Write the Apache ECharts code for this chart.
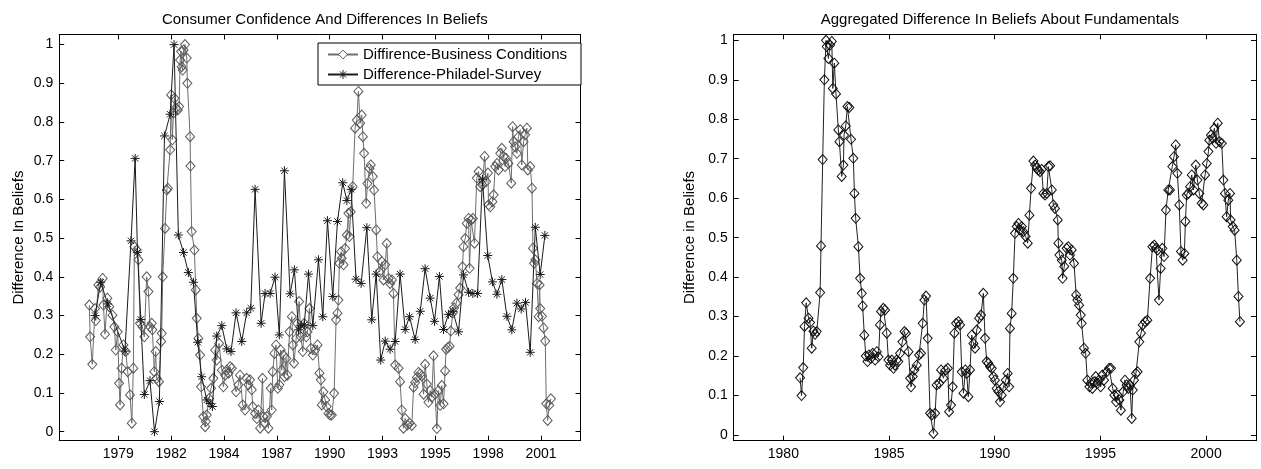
<!DOCTYPE html>
<html>
<head>
<meta charset="utf-8">
<script src="https://cdn.jsdelivr.net/npm/echarts@6/dist/echarts.min.js"></script>
<style>
html, body { margin: 0; padding: 0; background: #ffffff; }
#chart { width: 1261px; height: 469px; }
</style>
</head>
<body>
<div id="chart"></div>
<script>
// ---------------- text ----------------
const leftTitle = 'Consumer Confidence And Differences In Beliefs';
const rightTitle = 'Aggregated Difference In Beliefs About Fundamentals';
const leftYName = 'Difference In Beliefs';
const rightYName = 'Difference in Beliefs';
const bizName = 'Diffirence-Business Conditions';
const phillyName = 'Difference-Philadel-Survey';

// ---------------- tick positions (axis units) and labels ----------------
const leftXTickPos = [1979.55, 1982.25, 1984.95, 1987.65, 1990.35, 1993.05, 1995.75, 1998.45, 2001.15];
const leftXTickLabels = ['1979', '1982', '1984', '1987', '1990', '1993', '1995', '1998', '2001'];
const rightXTickPos = [1980, 1985, 1990, 1995, 2000];
const rightXTickLabels = ['1980', '1985', '1990', '1995', '2000'];
const yTickPos = [0, 0.1, 0.2, 0.3, 0.4, 0.5, 0.6, 0.7, 0.8, 0.9, 1];
const yTickLabels = ['0', '0.1', '0.2', '0.3', '0.4', '0.5', '0.6', '0.7', '0.8', '0.9', '1'];

// ---------------- axis ranges ----------------
const leftXRange = [1976.53, 2003.17];
const rightXRange = [1977.65, 2002.36];
const leftYRange = [-0.0233, 1.026];
const rightYRange = [-0.0144, 1.0152];

// ---------------- series: [decimal year, value] ----------------
const bizConditions = [
[1978.07,0.327],[1978.11,0.245],[1978.22,0.174],[1978.36,0.318],[1978.40,0.287],[1978.53,0.379],[1978.62,0.374],[1978.75,0.396],[1978.79,0.327],[1978.87,0.252],[1978.99,0.345],[1979.09,0.323],[1979.25,0.301],[1979.35,0.271],[1979.42,0.211],[1979.52,0.258],[1979.59,0.125],[1979.64,0.069],[1979.72,0.164],[1979.81,0.224],[1979.93,0.207],[1980.03,0.155],[1980.15,0.095],[1980.24,0.022],[1980.32,0.164],[1980.37,0.478],[1980.49,0.469],[1980.58,0.444],[1980.66,0.280],[1980.78,0.271],[1980.88,0.245],[1981.00,0.400],[1981.09,0.362],[1981.17,0.271],[1981.26,0.280],[1981.29,0.263],[1981.39,0.155],[1981.46,0.207],[1981.51,0.138],[1981.63,0.129],[1981.74,0.233],[1981.77,0.254],[1981.82,0.400],[1981.94,0.525],[1982.03,0.624],[1982.08,0.629],[1982.20,0.728],[1982.25,0.870],[1982.31,0.754],[1982.37,0.823],[1982.42,0.861],[1982.49,0.836],[1982.59,0.831],[1982.66,0.840],[1982.71,0.960],[1982.76,0.982],[1982.79,0.943],[1982.84,0.934],[1982.89,0.986],[1982.96,1.000],[1983.05,0.965],[1983.08,0.900],[1983.22,0.762],[1983.24,0.686],[1983.30,0.517],[1983.44,0.469],[1983.51,0.366],[1983.56,0.293],[1983.64,0.241],[1983.73,0.198],[1983.78,0.116],[1983.90,0.039],[1983.99,0.013],[1984.02,0.026],[1984.07,0.043],[1984.19,0.086],[1984.29,0.112],[1984.41,0.138],[1984.50,0.211],[1984.58,0.185],[1984.70,0.228],[1984.84,0.159],[1984.92,0.116],[1985.01,0.146],[1985.09,0.159],[1985.18,0.151],[1985.26,0.168],[1985.35,0.164],
[1985.57,0.103],[1985.69,0.121],[1985.77,0.146],[1985.91,0.069],[1986.03,0.056],[1986.11,0.138],[1986.20,0.121],[1986.28,0.134],[1986.37,0.108],[1986.42,0.065],[1986.54,0.047],[1986.63,0.034],[1986.71,0.056],[1986.80,0.009],[1986.92,0.138],[1986.97,0.039],[1987.05,0.022],[1987.14,0.039],[1987.22,0.009],[1987.34,0.112],[1987.39,0.056],[1987.44,0.155],[1987.53,0.202],[1987.61,0.224],[1987.70,0.112],[1987.78,0.121],[1987.85,0.211],[1987.90,0.159],[1987.99,0.198],[1988.04,0.142],[1988.13,0.189],[1988.19,0.146],[1988.30,0.258],[1988.42,0.297],[1988.47,0.224],[1988.53,0.177],[1988.64,0.241],[1988.70,0.280],[1988.79,0.336],[1988.88,0.245],[1988.98,0.207],[1989.05,0.280],[1989.15,0.245],[1989.22,0.258],[1989.32,0.318],[1989.39,0.215],[1989.49,0.198],[1989.61,0.211],[1989.73,0.224],[1989.83,0.151],[1989.90,0.134],[1989.95,0.069],[1990.03,0.103],[1990.12,0.082],[1990.20,0.065],[1990.29,0.047],[1990.37,0.043],[1990.46,0.043],[1990.58,0.099],[1990.68,0.289],[1990.75,0.306],[1990.80,0.340],[1990.85,0.435],[1990.94,0.465],[1990.97,0.448],[1991.06,0.431],[1991.14,0.473],[1991.23,0.508],[1991.31,0.564],[1991.36,0.504],[1991.43,0.568],[1991.53,0.633],[1991.65,0.784],[1991.74,0.805],[1991.82,0.879],[1991.91,0.797],[1991.99,0.818],[1992.05,0.762],[1992.11,0.719],[1992.22,0.590],[1992.28,0.641],[1992.39,0.680],[1992.45,0.689],[1992.56,0.659],[1992.62,0.624],[1992.73,0.521],[1992.79,0.452],[1992.90,0.413],[1993.02,0.439],[1993.10,0.392],[1993.19,0.431],[1993.27,0.486],[1993.36,0.396],[1993.44,0.383],[1993.53,0.392],[1993.61,0.357],[1993.70,0.172],[1993.87,0.164],[1993.95,0.129],[1994.04,0.056],[1994.12,0.009],[1994.21,0.034],[1994.33,0.017],[1994.43,0.022],[1994.55,0.016],[1994.64,0.115],[1994.72,0.127],[1994.81,0.140],[1994.89,0.153],[1994.98,0.149],[1995.06,0.144],[1995.15,0.097],[1995.23,0.174],[1995.32,0.123],[1995.40,0.076],[1995.49,0.106],[1995.57,0.089],[1995.66,0.196],[1995.74,0.097],[1995.83,0.008],[1995.91,0.106],[1996.00,0.068],[1996.08,0.119],[1996.17,0.072],[1996.25,0.157],[1996.30,0.213],[1996.39,0.217],[1996.48,0.221],[1996.54,0.260],[1996.65,0.307],[1996.71,0.320],[1996.82,0.332],[1996.94,0.354],[1997.02,0.371],[1997.14,0.426],[1997.19,0.478],[1997.28,0.499],[1997.36,0.538],[1997.45,0.551],[1997.50,0.422],[1997.58,0.547],[1997.67,0.551],[1997.75,0.487],[1997.87,0.655],[1997.96,0.672],[1998.04,0.633],[1998.16,0.637],[1998.27,0.711],[1998.35,0.646],[1998.44,0.668],[1998.47,0.586],[1998.56,0.581],[1998.67,0.594],[1998.73,0.612],[1998.81,0.685],[1998.90,0.693],[1998.98,0.676],[1999.07,0.719],[1999.15,0.732],[1999.24,0.711],[1999.32,0.685],[1999.37,0.706],[1999.49,0.693],[1999.63,0.642],[1999.70,0.788],[1999.75,0.749],[1999.83,0.736],[1999.92,0.719],[2000.00,0.762],[2000.09,0.780],[2000.17,0.689],[2000.26,0.749],[2000.34,0.767],[2000.43,0.784],[2000.48,0.676],[2000.60,0.685],[2000.69,0.629],[2000.74,0.474],[2000.80,0.435],[2000.86,0.444],[2000.95,0.383],[2001.03,0.297],[2001.08,0.379],[2001.11,0.318],[2001.20,0.298],[2001.28,0.268],[2001.37,0.234],[2001.42,0.072],[2001.49,0.029],[2001.57,0.068],[2001.66,0.085]
];

const phillySurvey = [
[1978.36,0.300],[1978.65,0.386],[1979.01,0.330],[1979.89,0.208],[1980.20,0.493],[1980.41,0.706],[1980.53,0.463],[1980.70,0.290],[1980.88,0.096],[1981.17,0.132],[1981.40,0.000],[1981.65,0.078],[1981.91,0.764],[1982.20,0.820],[1982.40,1.000],[1982.62,0.508],[1982.88,0.463],[1983.13,0.411],[1983.39,0.386],[1983.61,0.231],[1983.81,0.142],[1984.07,0.082],[1984.24,0.073],[1984.36,0.065],[1984.58,0.247],[1984.84,0.274],[1985.09,0.214],[1985.31,0.207],[1985.57,0.307],[1985.86,0.233],[1986.11,0.307],[1986.32,0.319],[1986.54,0.626],[1986.85,0.280],[1987.05,0.357],[1987.31,0.357],[1987.56,0.399],[1987.78,0.250],[1988.04,0.674],[1988.33,0.356],[1988.55,0.418],[1988.76,0.263],[1988.89,0.274],[1989.05,0.276],[1989.27,0.407],[1989.49,0.274],[1989.78,0.444],[1990.00,0.297],[1990.24,0.545],[1990.51,0.349],[1990.75,0.543],[1991.02,0.643],[1991.23,0.597],[1991.45,0.626],[1991.70,0.394],[1991.96,0.383],[1992.25,0.527],[1992.50,0.289],[1992.73,0.407],[1992.96,0.185],[1993.19,0.234],[1993.44,0.213],[1993.70,0.233],[1993.95,0.407],[1994.21,0.264],[1994.43,0.297],[1994.72,0.238],[1994.98,0.311],[1995.23,0.421],[1995.49,0.345],[1995.71,0.285],[1995.96,0.401],[1996.17,0.264],[1996.42,0.303],[1996.65,0.311],[1996.94,0.258],[1997.19,0.405],[1997.45,0.360],[1997.67,0.357],[1997.91,0.357],[1998.16,0.652],[1998.43,0.455],[1998.67,0.387],[1998.90,0.355],[1999.15,0.393],[1999.41,0.298],[1999.66,0.263],[1999.92,0.332],[2000.14,0.317],[2000.36,0.334],[2000.60,0.205],[2000.86,0.528],[2001.11,0.406],[2001.35,0.507]
];

const aggregated = [
[1980.79,0.145],[1980.86,0.100],[1980.94,0.171],[1981.00,0.275],[1981.08,0.335],[1981.19,0.296],[1981.26,0.285],[1981.34,0.220],[1981.42,0.263],[1981.50,0.255],[1981.58,0.262],[1981.74,0.361],[1981.78,0.479],[1981.86,0.698],[1981.94,0.900],[1982.02,1.000],[1982.05,0.984],[1982.13,0.954],[1982.21,0.988],[1982.29,0.997],[1982.34,0.878],[1982.41,0.942],[1982.49,0.864],[1982.60,0.773],[1982.65,0.743],[1982.76,0.655],[1982.84,0.684],[1982.87,0.760],[1982.95,0.783],[1983.03,0.832],[1983.12,0.830],[1983.20,0.749],[1983.31,0.701],[1983.36,0.612],[1983.42,0.549],[1983.55,0.477],[1983.63,0.397],[1983.71,0.359],[1983.75,0.327],[1983.83,0.253],[1983.90,0.200],[1983.98,0.186],[1984.05,0.203],[1984.13,0.194],[1984.23,0.207],[1984.34,0.190],[1984.42,0.211],[1984.50,0.198],[1984.57,0.279],[1984.62,0.313],[1984.73,0.321],[1984.81,0.317],[1984.89,0.258],[1984.97,0.190],[1985.05,0.177],[1985.13,0.190],[1985.21,0.169],[1985.28,0.177],[1985.36,0.190],[1985.44,0.186],[1985.52,0.207],[1985.63,0.236],[1985.73,0.262],[1985.80,0.258],[1985.92,0.211],[1986.00,0.144],[1986.04,0.122],[1986.12,0.148],[1986.20,0.165],[1986.31,0.177],[1986.42,0.203],[1986.51,0.207],[1986.59,0.283],[1986.67,0.342],[1986.75,0.352],[1986.83,0.245],[1986.94,0.055],[1987.02,0.051],[1987.10,0.004],[1987.18,0.055],[1987.25,0.127],[1987.37,0.131],[1987.46,0.165],[1987.57,0.144],[1987.68,0.165],[1987.78,0.169],[1987.84,0.059],[1987.93,0.076],[1988.01,0.122],[1988.09,0.258],[1988.17,0.283],[1988.28,0.287],[1988.36,0.279],[1988.44,0.160],[1988.52,0.106],[1988.61,0.165],[1988.67,0.156],[1988.75,0.097],[1988.83,0.165],[1988.91,0.253],[1988.99,0.232],[1989.07,0.220],[1989.15,0.266],[1989.26,0.296],[1989.35,0.304],[1989.46,0.359],[1989.54,0.245],[1989.62,0.186],[1989.70,0.182],[1989.78,0.173],[1989.86,0.169],[1989.94,0.148],[1990.01,0.139],[1990.09,0.118],[1990.17,0.110],[1990.25,0.084],[1990.33,0.101],[1990.41,0.122],[1990.52,0.139],[1990.61,0.156],[1990.68,0.122],[1990.72,0.270],[1990.80,0.308],[1990.88,0.397],[1990.96,0.511],[1991.04,0.528],[1991.12,0.536],[1991.20,0.519],[1991.28,0.528],[1991.35,0.515],[1991.46,0.503],[1991.56,0.486],[1991.64,0.557],[1991.72,0.625],[1991.83,0.694],[1991.91,0.684],[1991.99,0.676],[1992.06,0.671],[1992.14,0.667],[1992.22,0.673],[1992.30,0.612],[1992.38,0.608],[1992.46,0.612],[1992.54,0.680],[1992.62,0.682],[1992.70,0.621],[1992.77,0.583],[1992.85,0.574],[1992.98,0.545],[1993.01,0.486],[1993.06,0.456],[1993.17,0.443],[1993.21,0.397],[1993.29,0.427],[1993.40,0.473],[1993.48,0.477],[1993.56,0.456],[1993.64,0.469],[1993.75,0.435],[1993.85,0.355],[1993.91,0.342],[1993.99,0.329],[1994.07,0.304],[1994.11,0.283],[1994.22,0.220],[1994.30,0.207],[1994.38,0.139],[1994.48,0.122],[1994.54,0.131],[1994.62,0.118],[1994.70,0.135],[1994.78,0.148],[1994.86,0.131],[1994.93,0.139],[1995.01,0.122],[1995.09,0.152],[1995.17,0.139],[1995.30,0.160],[1995.41,0.169],[1995.50,0.169],[1995.58,0.118],[1995.66,0.101],[1995.74,0.084],[1995.82,0.101],[1995.90,0.089],[1995.97,0.063],[1996.08,0.110],[1996.16,0.139],[1996.24,0.127],[1996.32,0.118],[1996.40,0.127],[1996.48,0.042],[1996.53,0.114],[1996.59,0.139],[1996.68,0.156],[1996.76,0.160],[1996.84,0.236],[1996.92,0.258],[1997.00,0.279],[1997.11,0.287],[1997.22,0.291],[1997.35,0.397],[1997.46,0.477],[1997.55,0.481],[1997.63,0.473],[1997.71,0.469],[1997.77,0.342],[1997.85,0.422],[1997.93,0.473],[1998.01,0.452],[1998.10,0.570],[1998.21,0.621],[1998.29,0.621],[1998.40,0.680],[1998.48,0.705],[1998.56,0.735],[1998.64,0.663],[1998.73,0.583],[1998.81,0.465],[1998.89,0.443],[1998.97,0.460],[1999.02,0.541],[1999.08,0.608],[1999.16,0.612],[1999.24,0.629],[1999.32,0.659],[1999.40,0.621],[1999.51,0.684],[1999.59,0.646],[1999.68,0.612],[1999.79,0.587],[1999.87,0.583],[1999.95,0.659],[2000.03,0.688],[2000.11,0.718],[2000.15,0.747],[2000.23,0.760],[2000.31,0.752],[2000.39,0.777],[2000.47,0.739],[2000.55,0.790],[2000.63,0.743],[2000.74,0.739],[2000.82,0.646],[2000.89,0.612],[2000.97,0.553],[2001.05,0.595],[2001.13,0.612],[2001.16,0.545],[2001.26,0.528],[2001.35,0.519],[2001.45,0.443],[2001.53,0.351],[2001.60,0.287]
];

// ---------------- build chart ----------------
const FONT = '"Liberation Sans", Arial, Helvetica, sans-serif';
const STAR = 'path://M0,5L10,5M5,0L5,10M1.5,1.5L8.5,8.5M1.5,8.5L8.5,1.5';

function labelFor(positions, labels) {
  return function (v) {
    let best = -1, bd = Infinity;
    for (let i = 0; i < positions.length; i++) {
      const d = Math.abs(positions[i] - v);
      if (d < bd) { bd = d; best = i; }
    }
    return bd < 1e-6 ? labels[best] : '';
  };
}

function makeAxis(gridIndex, range, tickPos, tickLabels, position, showLabel, extra) {
  return Object.assign({
    type: 'value',
    gridIndex: gridIndex,
    position: position,
    min: range[0],
    max: range[1],
    scale: true,
    splitLine: { show: false },
    axisLine: { show: true, onZero: false, lineStyle: { color: '#000', width: 1 } },
    axisTick: { show: true, inside: true, length: 5, customValues: tickPos, lineStyle: { color: '#000', width: 1 } },
    axisLabel: {
      show: showLabel,
      customValues: tickPos,
      formatter: labelFor(tickPos, tickLabels),
      color: '#000',
      fontFamily: FONT,
      fontSize: 14,
      margin: 6
    }
  }, extra || {});
}

const nameStyle = { color: '#000', fontFamily: FONT, fontSize: 15 };

const option = {
  animation: false,
  backgroundColor: '#ffffff',
  title: [
    { text: leftTitle, left: 319.8, top: 7, textAlign: 'center',
      textStyle: { color: '#000', fontFamily: FONT, fontSize: 15, fontWeight: 'normal' } },
    { text: rightTitle, left: 994.9, top: 7, textAlign: 'center',
      textStyle: { color: '#000', fontFamily: FONT, fontSize: 15, fontWeight: 'normal' } }
  ],
  legend: {
    data: [
      { name: bizName, itemStyle: { color: '#ffffff', borderColor: '#5a5a5a', borderWidth: 1 } },
      { name: phillyName, itemStyle: { color: 'rgba(255,255,255,0)', borderColor: '#1a1a1a', borderWidth: 1 } }
    ],
    orient: 'vertical',
    right: 680,
    top: 43,
    backgroundColor: '#ffffff',
    borderColor: '#000',
    borderWidth: 1,
    borderRadius: 0,
    padding: [4, 14, 3, 9],
    itemGap: 5,
    itemWidth: 30,
    itemHeight: 11,
    textStyle: { color: '#000', fontFamily: FONT, fontSize: 15, lineHeight: 15 }
  },
  grid: [
    { left: 59.2, right: 1261 - 580.5, top: 34.5, bottom: 469 - 440.7, containLabel: false },
    { left: 733.7, right: 1261 - 1256, top: 34.3, bottom: 469 - 440.7, containLabel: false }
  ],
  xAxis: [
    makeAxis(0, leftXRange, leftXTickPos, leftXTickLabels, 'bottom', true),
    makeAxis(0, leftXRange, leftXTickPos, leftXTickLabels, 'top', false),
    makeAxis(1, rightXRange, rightXTickPos, rightXTickLabels, 'bottom', true),
    makeAxis(1, rightXRange, rightXTickPos, rightXTickLabels, 'top', false)
  ],
  yAxis: [
    makeAxis(0, leftYRange, yTickPos, yTickLabels, 'left', true,
      { name: leftYName, nameLocation: 'middle', nameGap: 33, nameRotate: 90, nameTextStyle: nameStyle }),
    makeAxis(0, leftYRange, yTickPos, yTickLabels, 'right', false),
    makeAxis(1, rightYRange, yTickPos, yTickLabels, 'left', true,
      { name: rightYName, nameLocation: 'middle', nameGap: 36, nameRotate: 90, nameTextStyle: nameStyle }),
    makeAxis(1, rightYRange, yTickPos, yTickLabels, 'right', false)
  ],
  series: [
    {
      name: bizName, type: 'line', xAxisIndex: 0, yAxisIndex: 0,
      data: bizConditions,
      symbol: 'diamond', symbolSize: [9, 10], showSymbol: true, showAllSymbol: true,
      itemStyle: { color: 'rgba(255,255,255,0)', borderColor: '#5a5a5a', borderWidth: 1 },
      lineStyle: { color: '#6e6e6e', width: 1 },
      emphasis: { disabled: true }, z: 2
    },
    {
      name: phillyName, type: 'line', xAxisIndex: 0, yAxisIndex: 0,
      data: phillySurvey,
      symbol: STAR, symbolSize: 9, showSymbol: true, showAllSymbol: true,
      itemStyle: { color: 'rgba(255,255,255,0)', borderColor: '#1a1a1a', borderWidth: 1 },
      lineStyle: { color: '#1a1a1a', width: 1 },
      emphasis: { disabled: true }, z: 3
    },
    {
      name: 'aggregated', type: 'line', xAxisIndex: 2, yAxisIndex: 2,
      data: aggregated,
      symbol: 'diamond', symbolSize: [9, 10], showSymbol: true, showAllSymbol: true,
      itemStyle: { color: 'rgba(255,255,255,0)', borderColor: '#111', borderWidth: 1 },
      lineStyle: { color: '#222', width: 1 },
      emphasis: { disabled: true }, z: 2
    }
  ]
};

const chart = echarts.init(document.getElementById('chart'), null, { renderer: 'canvas' });
chart.setOption(option);
</script>
</body>
</html>
